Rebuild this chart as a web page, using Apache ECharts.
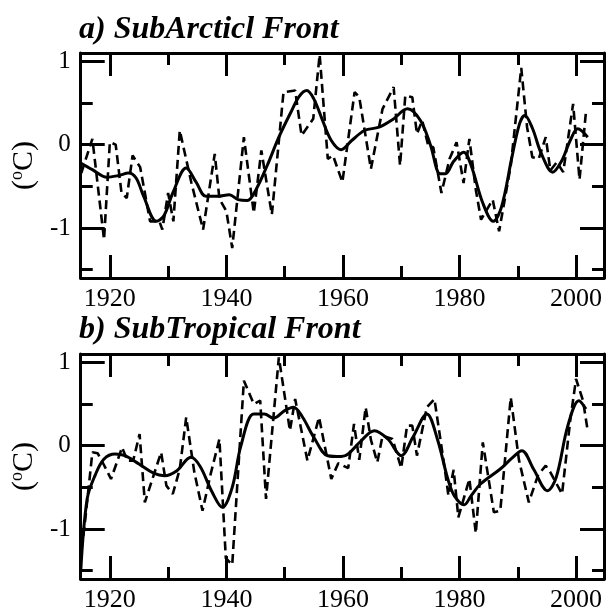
<!DOCTYPE html>
<html><head><meta charset="utf-8">
<script src="https://cdn.jsdelivr.net/npm/echarts@6/dist/echarts.min.js"></script>
<style>html,body{margin:0;padding:0;background:#fff}#c{width:607px;height:614px}</style>
</head><body><div id="c"></div>
<script>
// ---- data ----
const titles = ['a) SubArcticl Front', 'b) SubTropical Front'];
const xMajorTicks = [1920, 1940, 1960, 1980, 2000];
const xMinorTicks = [1930, 1950, 1970, 1990];
const yMajorTicks = [-1, 0, 1];
const yMinorTicks = [-1.5, -0.5, 0.5];

const subArcticSmooth = [[1915,-0.22],[1917,-0.30],[1919.5,-0.39],[1921.5,-0.37],[1923.2,-0.34],[1924.5,-0.40],[1925.8,-0.62],[1928,-0.92],[1929.3,-0.85],[1930.8,-0.58],[1933.1,-0.28],[1934.8,-0.45],[1936.5,-0.62],[1938.5,-0.62],[1940.5,-0.60],[1942,-0.66],[1943.6,-0.67],[1945,-0.55],[1947,-0.25],[1949,0.09],[1951,0.38],[1952.5,0.58],[1953.8,0.65],[1955,0.55],[1956.4,0.31],[1958,0.05],[1959.7,-0.06],[1961.5,0.05],[1963.7,0.17],[1966.2,0.21],[1968.5,0.30],[1971.1,0.43],[1973.3,0.29],[1975,0.0],[1976.7,-0.35],[1977.6,-0.35],[1979,-0.20],[1980.7,-0.09],[1982,-0.25],[1984,-0.70],[1985.8,-0.92],[1987.2,-0.75],[1989,-0.15],[1990.3,0.25],[1991.2,0.35],[1992.5,0.20],[1994,-0.10],[1996,-0.33],[1997.5,-0.20],[1999,0.05],[2000.3,0.19],[2002,0.09]];
const subArcticRaw = [[1915.1,-0.34],[1917.0,0.07],[1919.0,-1.14],[1920.0,0.03],[1921.0,0.0],[1922.0,-0.58],[1922.9,-0.64],[1923.9,-0.13],[1925.2,-0.27],[1926.9,-0.92],[1928.5,-0.92],[1929.0,-1.02],[1930.0,-0.58],[1930.9,-0.92],[1932.0,0.17],[1934.0,-0.46],[1936.0,-1.02],[1938.0,-0.11],[1938.8,-0.65],[1940.0,-0.80],[1941.0,-1.24],[1943.0,0.09],[1944.7,-0.82],[1946.0,-0.07],[1947.8,-0.84],[1949.8,0.63],[1951.8,0.65],[1952.9,0.11],[1954.9,0.31],[1956.0,1.08],[1957.4,-0.17],[1958.3,-0.13],[1959.9,-0.45],[1962.0,0.63],[1962.8,0.57],[1964.8,-0.29],[1966.8,0.43],[1968.7,0.69],[1969.8,-0.25],[1970.7,0.59],[1971.9,0.57],[1972.7,0.13],[1973.6,0.29],[1974.7,-0.03],[1975.5,-0.03],[1976.9,-0.58],[1978.3,-0.17],[1979.5,0.03],[1980.7,-0.46],[1981.7,0.07],[1982.8,-0.54],[1983.7,-0.90],[1985.7,-0.66],[1986.8,-1.04],[1988.8,-0.25],[1990.6,0.92],[1991.6,0.21],[1992.5,-0.15],[1993.6,-0.17],[1994.8,0.09],[1995.6,-0.31],[1996.7,-0.21],[1997.8,-0.33],[1999.5,0.49],[2000.6,-0.42],[2001.7,0.39]];

const subTropicalSmooth = [[1915,-1.51],[1916.1,-0.64],[1917.5,-0.35],[1919,-0.16],[1920.9,-0.10],[1922.6,-0.12],[1925,-0.22],[1927.5,-0.33],[1929.4,-0.36],[1931.5,-0.30],[1933.9,-0.14],[1935.5,-0.25],[1937.5,-0.55],[1939.3,-0.74],[1941,-0.50],[1942.5,0.0],[1944.7,0.38],[1946.5,0.38],[1948.1,0.33],[1950,0.42],[1951.5,0.46],[1953,0.35],[1955,0.10],[1957.4,-0.12],[1959.7,-0.13],[1960.9,-0.10],[1963,0.05],[1965.4,0.18],[1967.7,0.08],[1970,-0.12],[1972,0.10],[1974.4,0.38],[1976.2,0.08],[1978,-0.40],[1979.1,-0.60],[1980.8,-0.71],[1982,-0.60],[1983.6,-0.46],[1987,-0.28],[1989,-0.15],[1990.7,-0.06],[1992.7,-0.28],[1995.1,-0.54],[1996.6,-0.38],[1998.6,0.24],[2000.5,0.54],[2001.7,0.44]];
const subTropicalRaw = [[1915.1,-1.25],[1915.6,-1.0],[1917,-0.08],[1917.9,-0.09],[1918.9,-0.22],[1920.2,-0.40],[1922.1,-0.02],[1923,-0.18],[1924,-0.18],[1925.1,0.14],[1926,-0.68],[1927.3,-0.40],[1928.8,-0.08],[1929.7,-0.48],[1930.8,-0.58],[1932,-0.28],[1933.1,0.34],[1934.5,-0.32],[1935.9,-0.78],[1937.3,-0.34],[1938.8,0.08],[1939.9,-1.35],[1941,-1.43],[1943,0.78],[1944.7,0.50],[1945.8,0.54],[1946.8,-0.64],[1949,1.06],[1950.9,0.18],[1951.8,0.56],[1953.9,-0.18],[1955.9,0.34],[1958,-0.40],[1959.2,-0.21],[1960.9,-0.27],[1961.9,0.26],[1962.8,-0.17],[1963.9,0.46],[1964.8,0.07],[1965.9,-0.20],[1966.8,0.12],[1968.5,0.08],[1970,-0.27],[1971,0.24],[1971.9,0.24],[1972.7,-0.12],[1974.4,0.46],[1975.7,0.56],[1977.5,-0.29],[1978.1,-0.60],[1979,-0.29],[1979.8,-0.86],[1981.7,-0.40],[1982.8,-1.05],[1984,0.04],[1985.9,-0.80],[1987,-0.78],[1988.8,0.58],[1990.2,-0.17],[1991.9,-0.68],[1993.5,-0.35],[1994.8,-0.24],[1995.6,-0.32],[1997.6,-0.58],[1999,0.30],[2000,0.80],[2001.2,0.54],[2002,0.18]];

// ---- chart ----
const FONT = '"Liberation Serif", "Times New Roman", serif';
const XMIN = 1915, XMAX = 2004.8, YMIN = -1.6, YMAX = 1.1;
const grids = [
  {left: 77, right: 3, top: 53, height: 225},
  {left: 77, right: 3, top: 354, height: 225}
];
const xAxes = [], yAxes = [];
grids.forEach((g, gi) => {
  const mk = (pos, ticks, len, line, label) => ({
    type: 'value', gridIndex: gi, position: pos, min: XMIN, max: XMAX,
    splitLine: {show: false},
    axisLine: {show: line, onZero: false, lineStyle: {color: '#000', width: 3}},
    axisTick: {show: true, inside: true, length: len, customValues: ticks, lineStyle: {color: '#000', width: 3}},
    axisLabel: label ? {show: true, customValues: ticks, margin: 8, fontFamily: FONT, fontSize: 26, color: '#000',
      formatter: v => String(Math.round(v))} : {show: false}
  });
  xAxes.push(mk('bottom', xMajorTicks, 23, true, true));
  xAxes.push(mk('bottom', xMinorTicks, 12, false, false));
  xAxes.push(mk('top', xMajorTicks, 23, true, false));
  xAxes.push(mk('top', xMinorTicks, 12, false, false));
  const mky = (pos, ticks, len, line, label) => ({
    type: 'value', gridIndex: gi, position: pos, min: YMIN, max: YMAX,
    splitLine: {show: false},
    axisLine: {show: line, onZero: false, lineStyle: {color: '#000', width: 3}},
    axisTick: {show: true, inside: true, length: len, customValues: ticks, lineStyle: {color: '#000', width: 3}},
    axisLabel: label ? {show: true, customValues: ticks, margin: 10, fontFamily: FONT, fontSize: 25, color: '#000',
      formatter: v => String(Math.round(v))} : {show: false},
    name: label ? '{a|(}{s|o}{a|C)}' : '',
    nameLocation: 'middle', nameGap: 27, nameRotate: 90,
    nameTextStyle: {rich: {
      a: {fontFamily: FONT, fontSize: 30, color: '#000', lineHeight: 32},
      s: {fontFamily: FONT, fontSize: 18, color: '#000', verticalAlign: 'top', lineHeight: 32}
    }}
  });
  yAxes.push(mky('left', yMajorTicks, 24, true, true));
  yAxes.push(mky('left', yMinorTicks, 12, false, false));
  yAxes.push(mky('right', yMajorTicks, 24, true, false));
  yAxes.push(mky('right', yMinorTicks, 12, false, false));
});

const lineSeries = (data, gi, dashed) => ({
  type: 'line', data: data, xAxisIndex: gi * 4, yAxisIndex: gi * 4,
  showSymbol: false, symbol: 'none', smooth: dashed ? false : 0.35, clip: true,
  lineStyle: {color: '#000', width: dashed ? 2.6 : 3, type: dashed ? [9, 5] : 'solid'},
  z: dashed ? 2 : 3, silent: true
});

const chart = echarts.init(document.getElementById('c'), null, {renderer: 'canvas'});
chart.setOption({
  animation: false,
  backgroundColor: '#fff',
  title: [
    {text: titles[0], left: 74, top: 9, textStyle: {fontFamily: FONT, fontSize: 32, fontWeight: 'bold', fontStyle: 'italic', color: '#000'}},
    {text: titles[1], left: 74, top: 309, textStyle: {fontFamily: FONT, fontSize: 32, fontWeight: 'bold', fontStyle: 'italic', color: '#000'}}
  ],
  grid: grids,
  xAxis: xAxes,
  yAxis: yAxes,
  series: [
    lineSeries(subArcticRaw, 0, true),
    lineSeries(subArcticSmooth, 0, false),
    lineSeries(subTropicalRaw, 1, true),
    lineSeries(subTropicalSmooth, 1, false)
  ]
});
</script></body></html>
